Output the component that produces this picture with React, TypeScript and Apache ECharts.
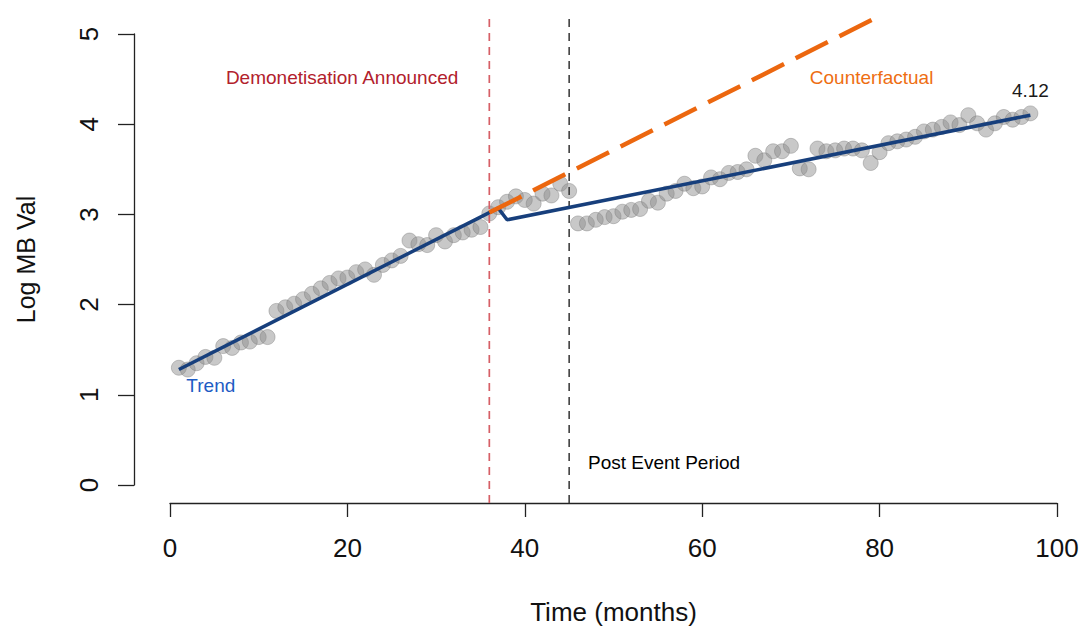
import React, { useEffect, useRef } from "react";
import * as echarts from "echarts";

// Observed log MB values, months 1..97
const observedValues = [
  1.30, 1.28, 1.35, 1.42, 1.41, 1.54, 1.52, 1.58, 1.59, 1.64,
  1.64, 1.93, 1.97, 2.01, 2.06, 2.12, 2.18, 2.24, 2.29, 2.30,
  2.36, 2.39, 2.33, 2.44, 2.49, 2.54, 2.71, 2.67, 2.66, 2.77,
  2.70, 2.77, 2.80, 2.83, 2.86, 3.01, 3.08, 3.14, 3.20, 3.16,
  3.12, 3.23, 3.21, 3.34, 3.26, 2.90, 2.90, 2.94, 2.97, 2.98,
  3.03, 3.05, 3.06, 3.15, 3.13, 3.23, 3.26, 3.34, 3.29, 3.31,
  3.41, 3.39, 3.46, 3.47, 3.50, 3.65, 3.60, 3.70, 3.70, 3.76,
  3.51, 3.50, 3.73, 3.70, 3.71, 3.73, 3.73, 3.71, 3.57, 3.69,
  3.79, 3.81, 3.83, 3.86, 3.92, 3.94, 3.97, 4.02, 3.99, 4.10,
  4.01, 3.94, 4.01, 4.08, 4.05, 4.08, 4.12,
];
const firstMonth = 1;

const trendMonths = [1, 37, 38, 97];
const trendValues = [1.28, 3.07, 2.94, 4.10];

const counterMonths = [36, 80];
const counterValues = [3.02, 5.2];

const announceMonth = 36;
const postMonth = 45;
const plotYMin = -0.2;
const plotYMax = 5.2;

const xTicks = { min: 0, max: 100, step: 20 };
const yTicks = { min: 0, max: 5, step: 1 };

const annotationTexts = ["Demonetisation Announced", "Counterfactual", "4.12", "Trend", "Post Event Period"];
const annotationX = [19.4, 79.1, 97.0, 4.6, 55.7];
const annotationY = [4.52, 4.52, 4.37, 1.10, 0.25];
const annotationColors = ["#B2212C", "#EE6E12", "#1A1A1A", "#1D5BC4", "#000000"];

const FONT = "'Liberation Sans', Arial, Helvetica, sans-serif";

export default function App() {
  const ref = useRef<HTMLDivElement>(null);
  useEffect(() => {
    document.body.style.margin = "0";
    const chart = echarts.init(ref.current!, null, { renderer: "svg" });
    const scatterData = observedValues.map((v, i) => [firstMonth + i, v]);
    const trendData = trendMonths.map((m, i) => [m, trendValues[i]]);
    const counterData = counterMonths.map((m, i) => [m, counterValues[i]]);
    const labelData = annotationTexts.map((t, i) => ({
      value: [annotationX[i], annotationY[i]],
      label: { formatter: t, color: annotationColors[i] },
    }));
    chart.setOption({
      animation: false,
      backgroundColor: "#ffffff",
      textStyle: { fontFamily: FONT },
      grid: { left: 170, right: 28, top: 34, bottom: 149 },
      xAxis: {
        type: "value",
        min: xTicks.min,
        max: xTicks.max,
        interval: xTicks.step,
        offset: 18,
        axisLine: { show: true, onZero: false, lineStyle: { color: "#222", width: 1.3 } },
        axisTick: { show: true, length: 14, lineStyle: { color: "#222", width: 1.3 } },
        axisLabel: { fontSize: 26, color: "#111", margin: 32, fontFamily: FONT, showMinLabel: true, showMaxLabel: true },
        splitLine: { show: false },
        name: "Time (months)",
        nameLocation: "middle",
        nameGap: 96,
        nameTextStyle: { fontSize: 26, color: "#111", fontFamily: FONT },
      },
      yAxis: {
        type: "value",
        min: yTicks.min,
        max: yTicks.max,
        interval: yTicks.step,
        offset: 36,
        axisLine: { show: true, onZero: false, lineStyle: { color: "#222", width: 1.3 } },
        axisTick: { show: true, length: 16, lineStyle: { color: "#222", width: 1.3 } },
        axisLabel: { fontSize: 26, color: "#111", margin: 32, rotate: 90, fontFamily: FONT, showMinLabel: true, showMaxLabel: true },
        splitLine: { show: false },
        name: "Log MB Val",
        nameLocation: "middle",
        nameGap: 96,
        nameRotate: 90,
        nameTextStyle: { fontSize: 25, color: "#111", fontFamily: FONT },
      },
      series: [
        {
          type: "scatter",
          data: scatterData,
          symbolSize: 15,
          itemStyle: { color: "rgba(140,140,140,0.6)", borderColor: "rgba(120,120,120,0.5)", borderWidth: 1 },
          silent: true,
          z: 1,
        },
        {
          type: "line",
          data: [[announceMonth, plotYMin], [announceMonth, plotYMax]],
          clip: false,
          symbol: "none",
          lineStyle: { color: "#D65F66", width: 1.7, type: [8, 6] },
          z: 2,
        },
        {
          type: "line",
          data: [[postMonth, plotYMin], [postMonth, plotYMax]],
          clip: false,
          symbol: "none",
          lineStyle: { color: "#333333", width: 1.5, type: [8, 6] },
          z: 2,
        },
        {
          type: "line",
          data: trendData,
          symbol: "none",
          clip: false,
          lineStyle: { color: "#173F7C", width: 3.5 },
          z: 3,
        },
        {
          type: "line",
          data: counterData,
          symbol: "none",
          clip: false,
          lineStyle: { color: "#EC670F", width: 4.5, type: [36, 13] },
          z: 4,
        },
        {
          type: "scatter",
          data: labelData,
          symbolSize: 0,
          itemStyle: { color: "#000", opacity: 1 },
          silent: true,
          label: { show: true, position: "inside", fontSize: 19, fontFamily: FONT, opacity: 1 },
          z: 5,
        },
      ],
    });
    return () => chart.dispose();
  }, []);
  return <div ref={ref} style={{ width: 1085, height: 634 }} />;
}
